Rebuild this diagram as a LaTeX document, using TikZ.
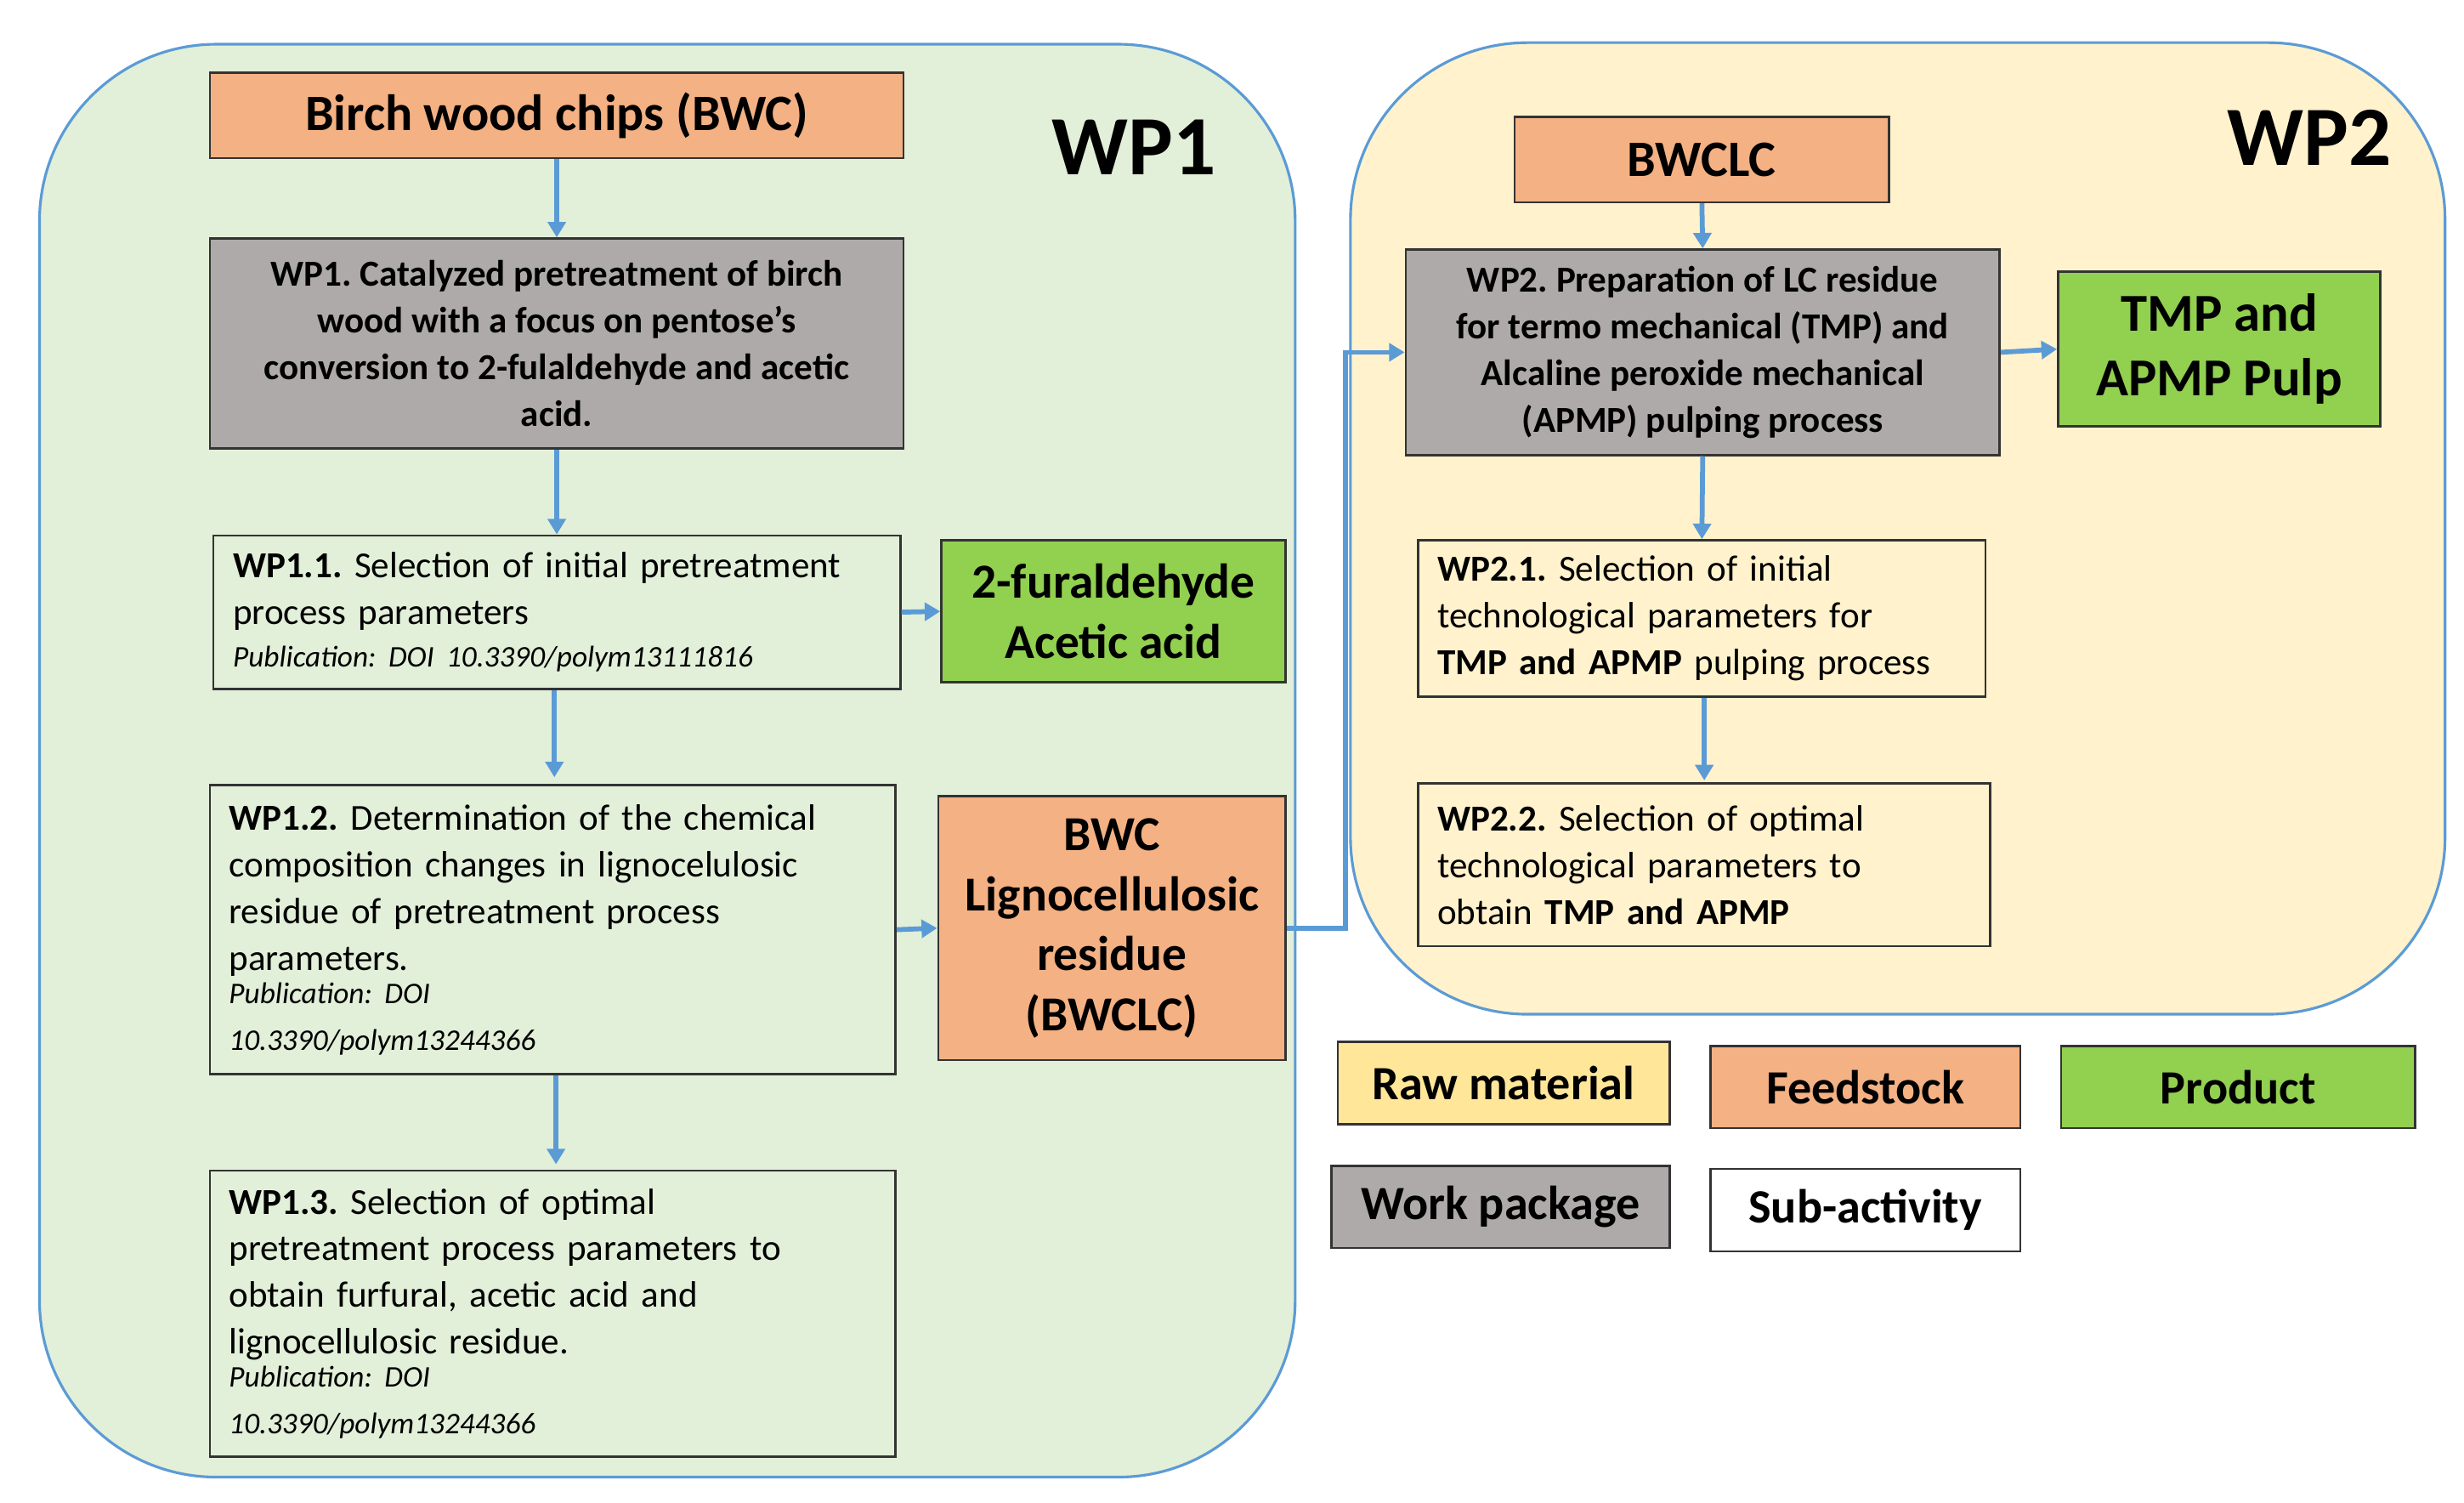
\documentclass[tikz,border=0pt]{standalone}
\usepackage{fontspec}
\setmainfont{Carlito}
\usetikzlibrary{arrows.meta}
\definecolor{gbg}{HTML}{E2EFD9}
\definecolor{ybg}{HTML}{FFF2CC}
\definecolor{edge}{HTML}{5B9BD5}
\definecolor{org}{HTML}{F4B183}
\definecolor{grn}{HTML}{92D050}
\definecolor{gry}{HTML}{AEAAAA}
\definecolor{yel}{HTML}{FFE699}
\newcommand{\pubf}{\fontsize{13.5}{18}\selectfont\itshape}
\frenchspacing
\tikzset{
 x=0.25mm,y=-0.25mm,
 region/.style={draw=edge,line width=1.2pt,rounded corners=28mm},
 box/.style={draw=black!80,line width=1pt,inner sep=0pt},
 body/.style={font=\fontsize{16.5}{21}\selectfont,align=left},
 arr/.style={draw=edge,line width=2.2pt,-{Triangle[length=7pt,width=8pt]}},
 lbl/.style={align=center},
 leg/.style={box,minimum height=52*0.25mm,font=\fontsize{21.5}{25}\selectfont\bfseries},
}
\begin{document}
\begin{tikzpicture}
\useasboundingbox (0,0) rectangle (1560,951);
\fill[white] (0,0) rectangle (1560,951);
\path[region,fill=gbg] (25,28) rectangle (820,935);
\path[region,fill=ybg] (855,27) rectangle (1548,642);
\node[font=\fontsize{38}{40}\selectfont\bfseries] (wp1t) at (718,93) {WP1};
\node[font=\fontsize{38}{40}\selectfont\bfseries] (wp2t) at (1462,87) {WP2};

% WP1 column
\node[box,fill=org,minimum width=439*0.25mm,minimum height=54*0.25mm,font=\fontsize{23}{27}\selectfont\bfseries] (bwc) at (352.5,73) {Birch wood chips (BWC)};
\node[box,fill=gry,minimum width=439*0.25mm,minimum height=133*0.25mm,align=center,font=\fontsize{16.5}{21}\selectfont\bfseries] (wp1) at (352.5,217.5) {WP1. Catalyzed pretreatment of birch\\wood with a focus on pentose's\\conversion to 2-fulaldehyde and acetic\\acid.};
\node[box,minimum width=435*0.25mm,minimum height=97*0.25mm,text width=410*0.25mm,body] (wp11) at (352.5,387.5) {\textbf{WP1.1.} Selection of initial pretreatment\\process parameters\\[-2pt]{\pubf Publication: DOI 10.3390/polym13111816}};
\node[box,fill=grn,minimum width=218*0.25mm,minimum height=90*0.25mm,lbl,font=\fontsize{22}{27}\selectfont\bfseries] (fur) at (705,387) {2-furaldehyde\\Acetic acid};
\node[box,minimum width=434*0.25mm,minimum height=183*0.25mm,text width=410*0.25mm,body] (wp12) at (350,588.5) {\textbf{WP1.2.} Determination of the chemical\\composition changes in lignocelulosic\\residue of pretreatment process\\parameters.\\[-3pt]{\pubf Publication: DOI\\10.3390/polym13244366}};
\node[box,fill=org,minimum width=220*0.25mm,minimum height=167*0.25mm,lbl,font=\fontsize{22}{27}\selectfont\bfseries] (bwclc1) at (704,587.5) {BWC\\Lignocellulosic\\residue\\(BWCLC)};
\node[box,minimum width=434*0.25mm,minimum height=181*0.25mm,text width=410*0.25mm,body] (wp13) at (350,831.5) {\textbf{WP1.3.} Selection of optimal\\pretreatment process parameters to\\obtain furfural, acetic acid and\\lignocellulosic residue.\\[-3pt]{\pubf Publication: DOI\\10.3390/polym13244366}};

% WP2 column
\node[box,fill=org,minimum width=237*0.25mm,minimum height=54*0.25mm,font=\fontsize{23}{27}\selectfont\bfseries] (bwclc) at (1077.5,101) {BWCLC};
\node[box,fill=gry,minimum width=376*0.25mm,minimum height=130*0.25mm,align=center,font=\fontsize{16.5}{21}\selectfont\bfseries] (wp2) at (1078,223) {WP2. Preparation of LC residue\\for termo mechanical (TMP) and\\Alcaline peroxide mechanical\\(APMP) pulping process};
\node[box,fill=grn,minimum width=204*0.25mm,minimum height=98*0.25mm,lbl,font=\fontsize{24}{29}\selectfont\bfseries] (tmp) at (1405,221) {TMP and\\APMP Pulp};
\node[box,minimum width=359*0.25mm,minimum height=99*0.25mm,text width=335*0.25mm,body] (wp21) at (1077.5,391.5) {\textbf{WP2.1.} Selection of initial\\technological parameters for\\\textbf{TMP and APMP} pulping process};
\node[box,minimum width=362*0.25mm,minimum height=103*0.25mm,text width=338*0.25mm,body] (wp22) at (1079,547.5) {\textbf{WP2.2.} Selection of optimal\\technological parameters to\\obtain \textbf{TMP and APMP}};

% legend
\node[leg,fill=yel,minimum width=210*0.25mm] (l1) at (952,685.5) {Raw material};
\node[leg,fill=org,minimum width=196*0.25mm] (l2) at (1181,688) {Feedstock};
\node[leg,fill=grn,minimum width=224*0.25mm] (l3) at (1417,688) {Product};
\node[leg,fill=gry,minimum width=214*0.25mm] (l4) at (950,764) {Work package};
\node[leg,fill=white,minimum width=196*0.25mm] (l5) at (1181,766) {Sub-activity};

% arrows
\draw[arr] (bwc.south) -- (wp1.north);
\draw[arr] (wp1.south) -- (wp11.north);
\draw[arr] (351,437) -- (351,492);
\draw[arr] (wp12.south -| 352,0) -- (352,737);
\draw[arr] (wp11.east) -- (fur.west);
\draw[arr] (wp12.east) -- (bwclc1.west);
\draw[arr] (bwclc1.east) -- (852,587.5) -- (852,223) -- (wp2.west);
\draw[arr] (bwclc.south) -- (wp2.north);
\draw[arr] (wp2.south) -- (wp21.north);
\draw[arr] (1079,442) -- (1079,494);
\draw[arr] (wp2.east) -- (tmp.west);
\end{tikzpicture}
\end{document}
